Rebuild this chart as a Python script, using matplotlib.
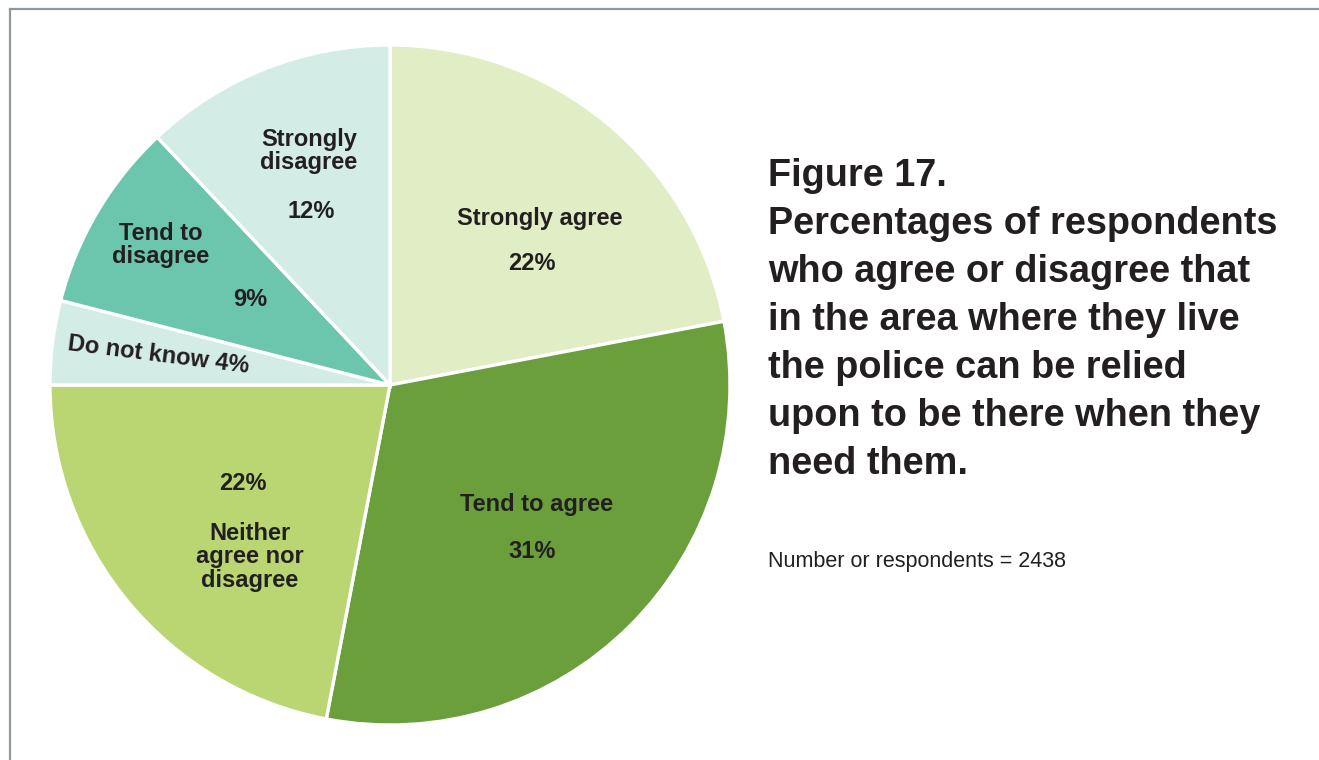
import matplotlib
matplotlib.use("Agg")
import matplotlib.pyplot as plt
from matplotlib.lines import Line2D
import numpy as np

# Survey responses (percent of respondents), clockwise from the top
categories = ["Strongly agree", "Tend to agree", "Neither agree nor disagree",
              "Do not know", "Tend to disagree", "Strongly disagree"]
values = [22, 31, 22, 4, 9, 12]
respondents = 2438

colors = ["#e0edc5", "#6a9f3b", "#b9d673", "#d4ece6", "#6cc5ad", "#d4ece6"]
ink = "#231f20"

W, H = 1319, 760
fig = plt.figure(figsize=(W / 100, H / 100), dpi=100)
fig.patch.set_facecolor("white")

# Pie occupies a square box centred at (390, 385) px with radius 340 px
cx, cy, r = 390, 385, 340
ax = fig.add_axes([(cx - r) / W, (H - cy - r) / H, 2 * r / W, 2 * r / H])

wedges, _ = ax.pie(values, colors=colors, startangle=90, counterclock=False,
                   radius=1.0, center=(0, 0),
                   wedgeprops=dict(edgecolor="white", linewidth=2.4))
ax.set_xlim(-1, 1)
ax.set_ylim(-1, 1)
ax.set_aspect("equal")
ax.axis("off")

font = "Liberation Sans"
lab_size = 17

def place(px, py):
    return (px - cx) / r, (cy - py) / r

# label layout: (name text, name pos px, pct pos px)
layout = [
    ("Strongly agree", (540, 218), (532, 264)),
    ("Tend to agree", (537, 504), (532, 551)),
    ("Neither\nagree nor\ndisagree", (250, 557), (243, 484)),
    (None, None, None),
    ("Tend to\ndisagree", (161, 245), (250, 300)),
    ("Strongly\ndisagree", (309, 151), (311, 212)),
]

for i, (name, npos, ppos) in enumerate(layout):
    pct = f"{values[i]}%"
    if name is None:
        continue
    x, y = place(*npos)
    ax.text(x, y, name, ha="center", va="center", fontsize=lab_size,
            fontweight="bold", color=ink, family=font, linespacing=1.05)
    x, y = place(*ppos)
    ax.text(x, y, pct, ha="center", va="center", fontsize=lab_size,
            fontweight="bold", color=ink, family=font)

# small slice: label runs along the radius
mid = 90 - 360 * (sum(values[:3]) + values[3] / 2) / 100
x, y = place(158, 355)
ax.text(x, y, f"Do not know {values[3]}%", ha="center", va="center",
        fontsize=lab_size, fontweight="bold", color=ink, family=font,
        rotation=mid - 180, rotation_mode="anchor")

# title block
title_lines = ["Figure 17.",
               "Percentages of respondents",
               "who agree or disagree that",
               "in the area where they live",
               "the police can be relied",
               "upon to be there when they",
               "need them."]
for k, line in enumerate(title_lines):
    fig.text(768 / W, 1 - (176 + 48 * k) / H, line, ha="left", va="center",
             fontsize=27.3, fontweight="bold", color=ink, family=font)

fig.text(768 / W, 1 - 561 / H, f"Number or respondents = {respondents}",
         ha="left", va="center", fontsize=15.5, color=ink, family=font)

# frame along top and left edges
frame_kw = dict(color="#8f989e", linewidth=1.6, transform=fig.transFigure)
fig.add_artist(Line2D([10 / W, 1], [1 - 9 / H, 1 - 9 / H], **frame_kw))
fig.add_artist(Line2D([10 / W, 10 / W], [1 - 9 / H, 0], **frame_kw))

fig.savefig("out.png", dpi=100, facecolor="white")
